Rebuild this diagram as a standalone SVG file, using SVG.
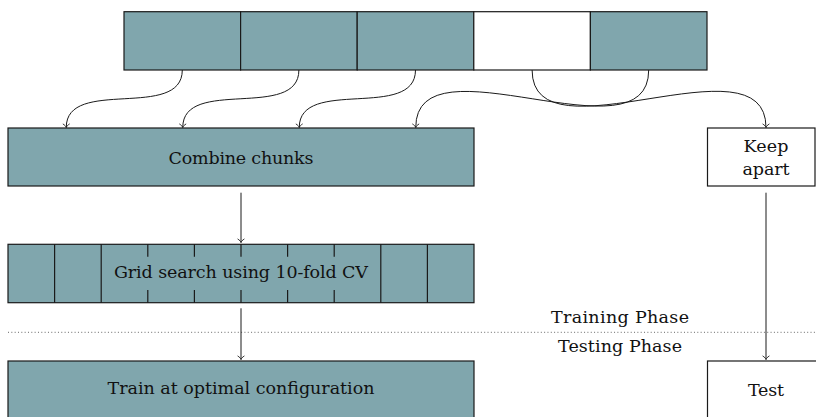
<svg xmlns="http://www.w3.org/2000/svg" width="816" height="417" viewBox="0 0 816 417">
  <style>
    .chunk { fill: #80a6ad; stroke: #1a1a1a; stroke-width: 1.2; }
    .plain { fill: #ffffff; stroke: #1a1a1a; stroke-width: 1.2; }
    .div { stroke: #1a1a1a; stroke-width: 1.2; fill: none; }
    .lbl { font-family: "DejaVu Serif", "Liberation Serif", serif; font-size: 17.5px; fill: #111; text-anchor: middle; }
    .edge { fill: none; stroke: #1a1a1a; stroke-width: 1; marker-end: url(#tip); }
    .sep { stroke: #666; stroke-width: 1; stroke-dasharray: 1 2.33; fill: none; }
  </style>
  <defs>
    <marker id="tip" viewBox="-5 -5 6 10" markerWidth="6" markerHeight="10" refX="0" refY="0" orient="auto" markerUnits="userSpaceOnUse">
      <path d="M-3.6,-3.4 C-2.4,-1.4 -1,-0.3 0,0 C-1,0.3 -2.4,1.4 -3.6,3.4" fill="none" stroke="#1a1a1a" stroke-width="0.9"/>
    </marker>
  </defs>

  <!-- data split into five chunks; the fourth is held out -->
  <g id="chunks">
    <rect class="chunk" x="124" y="11.7" width="116.6" height="58.3"/>
    <rect class="chunk" x="240.6" y="11.7" width="116.6" height="58.3"/>
    <rect class="chunk" x="357.2" y="11.7" width="116.6" height="58.3"/>
    <rect class="plain" x="473.8" y="11.7" width="116.6" height="58.3"/>
    <rect class="chunk" x="590.4" y="11.7" width="116.6" height="58.3"/>
  </g>

  <g id="combine">
    <rect class="chunk" x="8" y="128" width="466" height="58"/>
    <text class="lbl" x="241" y="164" textLength="145">Combine chunks</text>
  </g>

  <g id="keep-apart">
    <rect class="plain" x="707.5" y="128" width="107.5" height="58"/>
    <text class="lbl" x="766" y="151.5" textLength="45">Keep</text>
    <text class="lbl" x="766" y="174.5" textLength="47">apart</text>
  </g>

  <g id="grid-search">
    <rect class="chunk" x="8" y="244.3" width="466" height="58.4"/>
    <path class="div" d="M54.6,244.3V302.7 M101.2,244.3V302.7 M380.8,244.3V302.7 M427.4,244.3V302.7"/>
    <path class="div" d="M147.8,244.3V256.7 M194.4,244.3V256.7 M241,244.3V256.7 M287.6,244.3V256.7 M334.2,244.3V256.7
                          M147.8,290V302.7 M194.4,290V302.7 M241,290V302.7 M287.6,290V302.7 M334.2,290V302.7"/>
    <text class="lbl" x="241" y="278.3" textLength="254">Grid search using 10-fold CV</text>
  </g>

  <g id="train">
    <rect class="chunk" x="8" y="361" width="466" height="70"/>
    <text class="lbl" x="241" y="394" textLength="267">Train at optimal configuration</text>
  </g>

  <g id="test">
    <rect class="plain" x="707.5" y="361" width="130" height="70"/>
    <text class="lbl" x="766" y="396" textLength="36">Test</text>
  </g>

  <g id="phases">
    <line class="sep" x1="8" y1="332.3" x2="816" y2="332.3"/>
    <text class="lbl" x="620" y="323.3" textLength="138">Training Phase</text>
    <text class="lbl" x="620" y="351.7" textLength="124">Testing Phase</text>
  </g>

  <g id="connectors">
    <path class="edge" d="M182.3,70 C182.3,120.9 66.25,76.6 66.25,127.5"/>
    <path class="edge" d="M298.9,70 C298.9,120.9 182.75,76.6 182.75,127.5"/>
    <path class="edge" d="M415.5,70 C415.5,120.9 299.25,76.6 299.25,127.5"/>
    <path class="edge" d="M648.7,70 C648.7,163.9 415.75,33.6 415.75,127.5"/>
    <path class="edge" d="M532.1,70 C532.1,164.4 766,33.1 766,127.5"/>
    <path class="edge" d="M241,192.7 V242.5"/>
    <path class="edge" d="M241,308.3 V359.5"/>
    <path class="edge" d="M766,192.7 V359.5"/>
  </g>
</svg>
